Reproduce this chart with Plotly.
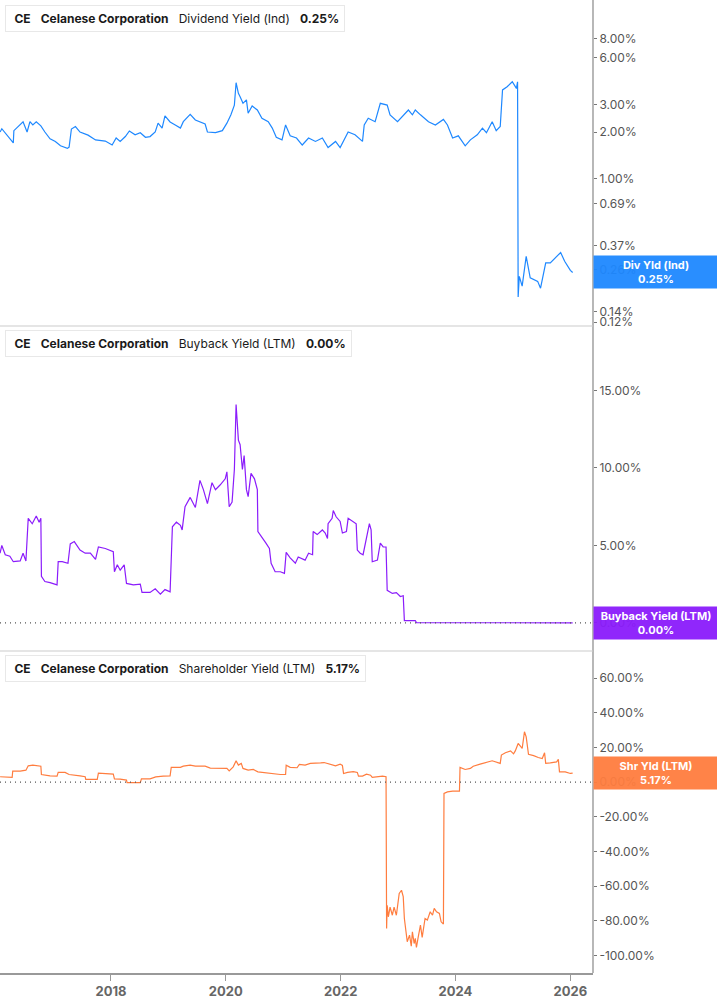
import math
import plotly.graph_objects as go
from plotly.subplots import make_subplots
import pandas as pd

# --- data (time in decimal years, values in %) ---
div_t = [2016.07, 2016.10, 2016.30, 2016.31, 2016.47, 2016.54, 2016.59, 2016.64, 2016.70, 2016.78,
         2016.85, 2016.94, 2017.03, 2017.12, 2017.24, 2017.27, 2017.31, 2017.38, 2017.46, 2017.60,
         2017.73, 2017.90, 2018.02, 2018.09, 2018.16, 2018.25, 2018.32, 2018.42, 2018.51, 2018.60,
         2018.68, 2018.77, 2018.82, 2018.89, 2018.94, 2019.03, 2019.12, 2019.21, 2019.26, 2019.38,
         2019.47, 2019.55, 2019.64, 2019.68, 2019.82, 2019.94, 2020.02, 2020.09, 2020.15, 2020.18,
         2020.22, 2020.25, 2020.30, 2020.36, 2020.39, 2020.46, 2020.55, 2020.63, 2020.74, 2020.81,
         2020.88, 2020.98, 2021.04, 2021.12, 2021.23, 2021.33, 2021.44, 2021.56, 2021.68, 2021.78,
         2021.91, 2021.99, 2022.08, 2022.13, 2022.25, 2022.38, 2022.41, 2022.48, 2022.60, 2022.69,
         2022.81, 2022.86, 2022.99, 2023.07, 2023.18, 2023.25, 2023.30, 2023.39, 2023.53, 2023.65,
         2023.79, 2023.86, 2023.95, 2024.05, 2024.17, 2024.26, 2024.38, 2024.47, 2024.54, 2024.64,
         2024.71, 2024.78, 2024.82, 2024.90, 2024.99, 2025.06, 2025.08, 2025.09, 2025.11, 2025.16,
         2025.23, 2025.30, 2025.43, 2025.48, 2025.57, 2025.65, 2025.70, 2025.83, 2025.90, 2026.00,
         2026.04]
div_yld = [2.00, 2.10, 1.70, 2.04, 2.33, 2.00, 2.33, 2.22, 2.33, 2.19,
           2.00, 1.81, 1.74, 1.63, 1.57, 1.60, 2.09, 2.17, 2.00, 1.91,
           1.78, 1.75, 1.65, 1.83, 1.74, 1.87, 2.03, 1.92, 1.98, 1.85,
           1.87, 2.00, 2.28, 2.12, 2.54, 2.32, 2.22, 2.12, 2.33, 2.60,
           2.39, 2.33, 2.25, 2.00, 1.98, 2.04, 2.28, 2.58, 2.98, 4.15,
           3.55, 3.37, 3.06, 3.22, 2.64, 2.94, 2.77, 2.45, 2.33, 2.12,
           1.85, 1.78, 2.22, 1.89, 1.83, 1.65, 1.83, 1.74, 1.83, 1.59,
           1.74, 1.59, 1.83, 2.00, 1.92, 1.74, 2.22, 2.45, 2.33, 3.06,
           2.98, 2.58, 2.33, 2.51, 2.77, 2.58, 2.77, 2.58, 2.33, 2.22,
           2.41, 2.22, 1.83, 1.89, 1.63, 1.78, 1.92, 2.12, 1.98, 2.33,
           2.04, 2.17, 3.73, 3.91, 4.21, 3.82, 4.21, 0.174, 0.236, 0.204,
           0.317, 0.231, 0.219, 0.198, 0.288, 0.288, 0.302, 0.336, 0.295, 0.258,
           0.25]

buy_t = [2016.07, 2016.10, 2016.16, 2016.24, 2016.30, 2016.42, 2016.47, 2016.52, 2016.56, 2016.63,
         2016.70, 2016.75, 2016.78, 2016.79, 2016.85, 2016.94, 2017.06, 2017.08, 2017.15, 2017.25,
         2017.29, 2017.36, 2017.46, 2017.55, 2017.64, 2017.73, 2017.78, 2017.90, 2018.04, 2018.06,
         2018.11, 2018.16, 2018.23, 2018.27, 2018.39, 2018.51, 2018.54, 2018.68, 2018.77, 2018.86,
         2018.94, 2019.03, 2019.07, 2019.14, 2019.21, 2019.24, 2019.29, 2019.38, 2019.47, 2019.55,
         2019.61, 2019.68, 2019.76, 2019.82, 2019.90, 2019.99, 2020.02, 2020.06, 2020.11, 2020.15,
         2020.18, 2020.22, 2020.25, 2020.29, 2020.32, 2020.36, 2020.39, 2020.44, 2020.50, 2020.55,
         2020.56, 2020.63, 2020.70, 2020.76, 2020.79, 2020.86, 2020.95, 2021.02, 2021.05, 2021.12,
         2021.21, 2021.26, 2021.38, 2021.44, 2021.51, 2021.52, 2021.59, 2021.68, 2021.73, 2021.77,
         2021.78, 2021.85, 2021.87, 2021.92, 2021.99, 2022.03, 2022.10, 2022.13, 2022.20, 2022.27,
         2022.29, 2022.34, 2022.39, 2022.45, 2022.50, 2022.53, 2022.55, 2022.64, 2022.69, 2022.74,
         2022.79, 2022.81, 2022.90, 2022.97, 2023.04, 2023.09, 2023.11, 2023.30, 2023.32, 2026.04]
buyback_yld = [4.5, 5.0, 4.4, 4.3, 3.95, 4.0, 4.5, 4.0, 6.75, 6.4,
               6.9, 6.5, 6.75, 3.0, 2.67, 2.6, 2.45, 3.95, 3.95, 3.85,
               5.1, 5.25, 4.7, 4.5, 4.5, 4.1, 4.9, 4.8, 4.6, 3.3,
               3.75, 3.4, 3.75, 2.55, 2.45, 2.5, 1.97, 1.97, 2.2, 1.85,
               2.15, 2.0, 6.2, 6.5, 6.3, 6.0, 7.5, 8.1, 7.45, 9.2,
               8.6, 7.7, 9.05, 8.6, 8.9, 9.3, 9.75, 7.5, 7.8, 9.9,
               14.1, 11.8, 11.5, 9.9, 10.8, 8.6, 8.15, 9.65, 9.3, 8.6,
               5.9, 5.55, 5.15, 4.8, 3.85, 3.3, 3.3, 3.2, 4.55, 4.2,
               3.85, 4.25, 4.05, 4.5, 4.4, 5.9, 5.7, 6.0, 5.8, 5.45,
               6.4, 6.75, 7.25, 6.85, 6.55, 5.8, 5.9, 6.75, 6.55, 6.4,
               4.7, 4.5, 4.4, 5.55, 6.4, 6.0, 3.95, 4.05, 5.15, 4.9,
               4.9, 2.1, 1.9, 1.95, 1.7, 1.75, 0.15, 0.15, 0.02, 0.0]

shr_t = [2016.07, 2016.28, 2016.29, 2016.42, 2016.52, 2016.56, 2016.64, 2016.73, 2016.78, 2016.79,
         2016.94, 2017.06, 2017.08, 2017.20, 2017.27, 2017.46, 2017.55, 2017.56, 2017.76, 2017.78,
         2017.90, 2018.04, 2018.06, 2018.16, 2018.27, 2018.28, 2018.51, 2018.53, 2018.68, 2018.78,
         2018.91, 2019.03, 2019.05, 2019.21, 2019.26, 2019.38, 2019.47, 2019.55, 2019.64, 2019.73,
         2019.90, 2020.02, 2020.06, 2020.13, 2020.18, 2020.22, 2020.27, 2020.30, 2020.39, 2020.48,
         2020.56, 2020.69, 2020.81, 2020.95, 2021.04, 2021.05, 2021.12, 2021.24, 2021.28, 2021.38,
         2021.47, 2021.56, 2021.65, 2021.71, 2021.82, 2021.91, 2021.99, 2022.03, 2022.05, 2022.12,
         2022.22, 2022.29, 2022.31, 2022.38, 2022.45, 2022.52, 2022.55, 2022.66, 2022.73, 2022.79,
         2022.80, 2022.81, 2022.83, 2022.86, 2022.90, 2022.93, 2022.97, 2023.02, 2023.06, 2023.09,
         2023.11, 2023.13, 2023.16, 2023.20, 2023.23, 2023.25, 2023.28, 2023.30, 2023.32, 2023.35,
         2023.39, 2023.42, 2023.46, 2023.47, 2023.51, 2023.56, 2023.60, 2023.63, 2023.67, 2023.72,
         2023.75, 2023.79, 2023.80, 2023.86, 2023.95, 2024.07, 2024.08, 2024.17, 2024.26, 2024.31,
         2024.43, 2024.55, 2024.64, 2024.78, 2024.80, 2024.87, 2024.96, 2025.01, 2025.04, 2025.09,
         2025.13, 2025.16, 2025.20, 2025.23, 2025.27, 2025.36, 2025.44, 2025.51, 2025.55, 2025.57,
         2025.65, 2025.76, 2025.79, 2025.81, 2025.91, 2026.00, 2026.04]
shr_yld = [3.1, 2.7, 6.3, 6.3, 6.9, 9.4, 9.8, 9.2, 9.2, 4.4,
           3.6, 3.5, 5.6, 5.6, 4.4, 3.6, 3.1, 1.55, 1.55, 5.2,
           5.0, 4.6, 1.9, 1.75, 1.15, -0.3, -0.3, 1.9, 1.9, 3.0,
           3.5, 3.6, 8.5, 8.5, 9.2, 9.8, 9.2, 9.4, 9.2, 8.1,
           7.9, 7.9, 6.5, 8.8, 12.3, 9.8, 10.8, 7.9, 6.9, 7.3,
           5.95, 5.4, 5.0, 4.4, 4.4, 9.8, 8.5, 8.3, 10.2, 9.8,
           10.8, 10.8, 11.1, 11.3, 10.2, 9.4, 10.4, 9.6, 5.0, 5.6,
           6.0, 5.6, 3.5, 3.5, 4.6, 4.0, 2.7, 3.1, 3.5, 3.1,
           -84.3, -71.0, -77.6, -72.0, -76.7, -72.0, -76.7, -64.2, -62.3, -66.0,
           -78.6, -83.4, -92.0, -88.2, -94.5, -86.3, -93.0, -90.0, -95.3, -89.5,
           -82.4, -89.5, -82.4, -78.6, -79.5, -74.7, -76.7, -72.8, -74.7, -75.7,
           -80.5, -81.8, -6.5, -5.6, -5.2, -5.2, 8.5, 7.3, 7.9, 9.2,
           10.4, 11.3, 12.3, 10.8, 15.6, 16.9, 18.0, 16.3, 18.0, 22.3,
           20.4, 19.4, 29.0, 26.1, 16.0, 15.3, 14.2, 13.6, 16.9, 10.8,
           11.1, 11.7, 13.1, 5.95, 5.95, 5.0, 5.17]

div_ticks = [8, 6, 3, 2, 1, 0.69, 0.37, 0.26, 0.14, 0.12]
buy_ticks = [0, 5, 10, 15]
shr_ticks = [60, 40, 20, 0, -20, -40, -60, -80, -100]
year_ticks = ["2018-01-01", "2020-01-01", "2022-01-01", "2024-01-01", "2026-01-01"]

last_div, last_buy, last_shr = 0.25, 0.00, 5.17

BLUE = "#1e88ff"
PURPLE = "#8b1cfb"
ORANGE = "#ff7d3f"
FONT = "Inter"


def to_dates(years):
    out = []
    for y in years:
        yr = int(y)
        out.append(pd.Timestamp(yr, 1, 1) + pd.Timedelta(days=(y - yr) * 365.25))
    return out


def pct(vals):
    return [f"{v:.2f}%" for v in vals]


fig = make_subplots(rows=3, cols=1, shared_xaxes=True, vertical_spacing=0.0)

fig.add_trace(go.Scatter(x=to_dates(div_t), y=div_yld, mode="lines",
                         line=dict(color=BLUE, width=1.2), showlegend=False), row=1, col=1)
fig.add_trace(go.Scatter(x=to_dates(buy_t), y=buyback_yld, mode="lines",
                         line=dict(color=PURPLE, width=1.2), showlegend=False), row=2, col=1)
fig.add_trace(go.Scatter(x=to_dates(shr_t), y=shr_yld, mode="lines",
                         line=dict(color=ORANGE, width=1.2), showlegend=False), row=3, col=1)

H = 973.0  # plot area height in px
dom1 = [(H - 325) / H, 1.0]
dom2 = [(H - 650) / H, (H - 327) / H]
dom3 = [0.0, (H - 652) / H]

tick_font = dict(family=FONT, size=12, color="#555")
yax_common = dict(side="right", showgrid=False, zeroline=False, ticks="outside",
                  ticklen=3, tickcolor="#777", tickfont=tick_font, showline=False)

fig.update_layout(
    width=717, height=1005,
    margin=dict(l=0, r=124, t=0, b=32, autoexpand=False),
    plot_bgcolor="white", paper_bgcolor="white",
    font=dict(family=FONT),
    yaxis=dict(domain=dom1, type="log", range=[-0.94, 1.15],
               tickvals=div_ticks, ticktext=pct(div_ticks), **yax_common),
    yaxis2=dict(domain=dom2, range=[-1.75, 19.1], tickvals=buy_ticks,
                ticktext=pct(buy_ticks), **yax_common),
    yaxis3=dict(domain=dom3, range=[-110, 75], tickvals=shr_ticks,
                ticktext=pct(shr_ticks), **yax_common),
)

xr = ["2016-01-26", "2026-05-25"]
fig.update_xaxes(range=xr, showgrid=False, zeroline=False, showticklabels=False)
fig.update_xaxes(row=3, col=1, showticklabels=True, tickvals=year_ticks,
                 tickformat="%Y", ticks="outside", ticklen=6, tickcolor="#999",
                 showline=True, linecolor="#999", linewidth=1.5,
                 tickfont=dict(family=FONT, size=13, color="#666", weight="bold"))

# right vertical axis line + panel separators
fig.add_shape(type="line", xref="paper", yref="paper", x0=1, x1=1, y0=0, y1=1,
              line=dict(color="#888", width=1.2))
for yy in [(H - 326) / H, (H - 651) / H]:
    fig.add_shape(type="line", xref="paper", yref="paper", x0=0, x1=1, y0=yy, y1=yy,
                  line=dict(color="#ccc", width=1.2))

# dotted zero lines
for yr in ["y2", "y3"]:
    fig.add_shape(type="line", xref="paper", yref=yr, x0=0, x1=1, y0=0, y1=0,
                  line=dict(color="#555", width=1.2, dash="1px,4px"))

# legend boxes
sp = "\u00a0\u00a0\u00a0"
legends = [
    (BLUE, "Dividend Yield (Ind)", f"{last_div:.2f}%", 5),
    (PURPLE, "Buyback Yield (LTM)", f"{last_buy:.2f}%", 330),
    (ORANGE, "Shareholder Yield (LTM)", f"{last_shr:.2f}%", 655),
]
for color, name, val, top in legends:
    fig.add_annotation(xref="paper", yref="paper", x=0, y=(H - top) / H,
                       xanchor="left", yanchor="top", xshift=5, showarrow=False,
                       text=f"\u00a0<b>CE</b>{sp}<b>Celanese Corporation</b>{sp}{name}{sp}<b>{val}</b>",
                       font=dict(family=FONT, size=12, color="#1a1a1a"),
                       bgcolor="white", bordercolor="#e8e8e8", borderwidth=1, borderpad=5)
    fig.add_shape(type="rect", xref="paper", yref="paper",
                  x0=5 / 593, x1=8 / 593, y0=(H - top - 24) / H, y1=(H - top - 1) / H,
                  fillcolor=color, line=dict(width=0))

# last value labels on the right
labels = [
    ("y", BLUE, "Div Yld (Ind)", last_div),
    ("y2", PURPLE, "Buyback Yield (LTM)", last_buy),
    ("y3", ORANGE, "Shr Yld (LTM)", last_shr),
]
for yref, color, name, val in labels:
    ypos = math.log10(val) if yref == "y" else val
    fig.add_annotation(xref="paper", yref=yref, x=1, y=ypos, xanchor="left", yanchor="middle",
                       showarrow=False, width=120, align="center",
                       text=f"<b>{name}<br>{val:.2f}%</b>",
                       font=dict(family=FONT, size=11, color="white"),
                       bgcolor=color, opacity=0.95, borderpad=2)

fig.write_html("out.html", config={"displayModeBar": False},
               post_script="document.body.style.margin='0px';")
